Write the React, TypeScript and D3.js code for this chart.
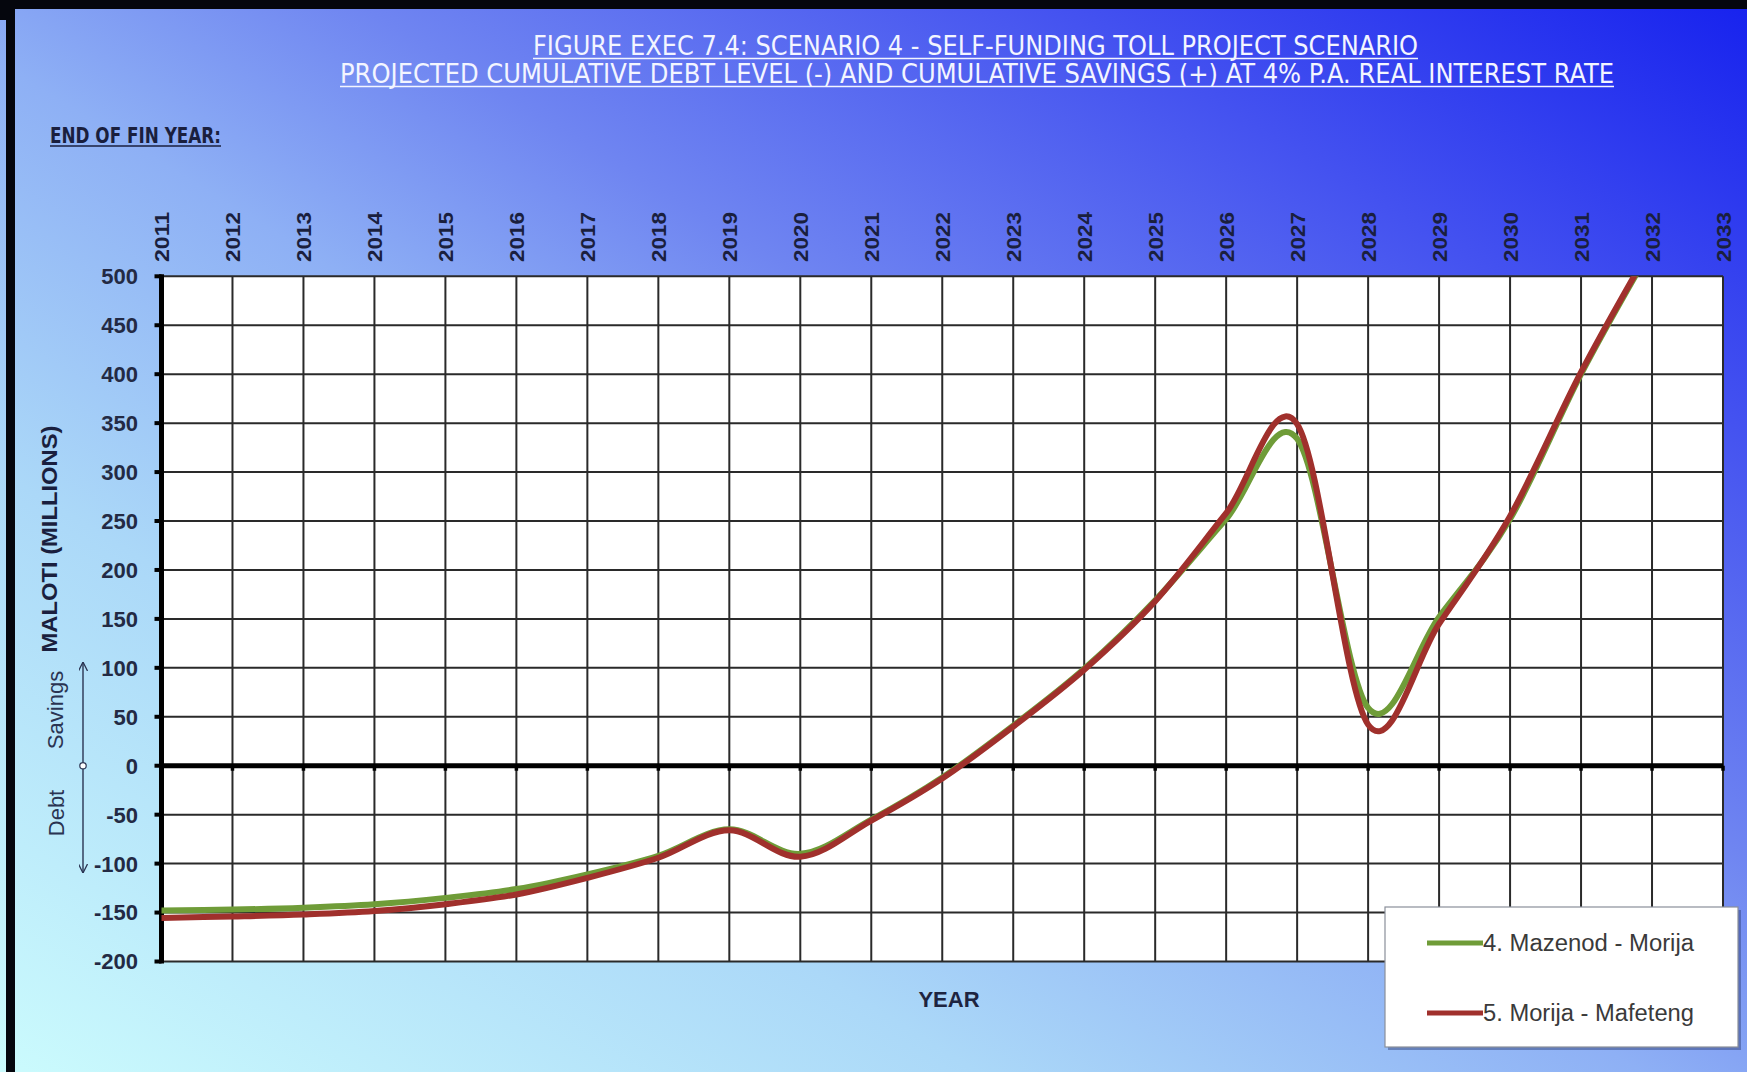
import React from "react";
import * as d3 from "d3";

// Financial years shown along the top axis
const years = [2011, 2012, 2013, 2014, 2015, 2016, 2017, 2018, 2019, 2020, 2021, 2022, 2023, 2024, 2025, 2026, 2027, 2028, 2029, 2030, 2031, 2032];
const yearLabels = [2011, 2012, 2013, 2014, 2015, 2016, 2017, 2018, 2019, 2020, 2021, 2022, 2023, 2024, 2025, 2026, 2027, 2028, 2029, 2030, 2031, 2032, 2033];

// Cumulative debt (-) / savings (+), Maloti millions
const mazenodMorija = [-148, -147, -145, -141.5, -135, -126, -111, -92, -65, -90, -55, -12, 41, 99, 169, 252, 334, 59, 152, 252, 400, 530];
const morijaMafeteng = [-155.5, -154, -152, -148.5, -141.5, -131.5, -114.5, -94, -66, -93, -56, -13, 40, 98, 168, 258, 349, 42, 145, 255, 402, 532];

const yTicks = [-200, -150, -100, -50, 0, 50, 100, 150, 200, 250, 300, 350, 400, 450, 500];

const seriesNames = ["4. Mazenod - Morija", "5. Morija - Mafeteng"];
const seriesColors = ["#6f9c38", "#a0302c"];

const W = 1747;
const H = 1072;
const PL = 161.5, PR = 1723, PT = 276.3, PB = 961.5;

const ARIAL = "'Liberation Sans', Arial, sans-serif";
const NARROW = "'Liberation Sans Narrow', 'DejaVu Sans Condensed', 'Liberation Sans', sans-serif";
const NAVY = "#1a1f3e";

export default function App() {
  const x = d3.scaleLinear().domain([2011, 2033]).range([PL, PR]);
  const y = d3.scaleLinear().domain([-200, 500]).range([PB, PT]);

  const line = d3
    .line<number>()
    .x((_, i) => x(years[i]))
    .y((d) => y(d))
    .curve(d3.curveCardinal.tension(0));

  const series = [mazenodMorija, morijaMafeteng];

  return (
    <svg
      width={W}
      height={H}
      viewBox={`0 0 ${W} ${H}`}
      style={{ position: "absolute", left: 0, top: 0, display: "block" }}
    >
      <defs>
        <linearGradient id="bg" x1="0" y1="1" x2="1" y2="0">
          <stop offset="0" stopColor="#cbfbfd" />
          <stop offset="0.28" stopColor="#abd8f8" />
          <stop offset="0.47" stopColor="#8eb0f5" />
          <stop offset="0.6" stopColor="#6f85f1" />
          <stop offset="0.8" stopColor="#4452f0" />
          <stop offset="1" stopColor="#1722ee" />
        </linearGradient>
        <clipPath id="plotClip">
          <rect x={PL} y={PT} width={PR - PL} height={PB - PT} />
        </clipPath>
        <marker id="arrowHead" viewBox="0 0 10 10" refX="10" refY="5" markerWidth="9" markerHeight="9" orient="auto-start-reverse" markerUnits="userSpaceOnUse">
          <path d="M0,0 L10,5 L0,10" fill="none" stroke="#2a3452" strokeWidth="1.4" />
        </marker>
      </defs>

      {/* background and frame */}
      <rect x={0} y={0} width={W} height={H} fill="url(#bg)" />
      <rect x={0} y={0} width={W} height={9} fill="#05060d" />
      <rect x={6} y={0} width={9} height={H} fill="#05060d" />
      <rect x={0} y={0} width={9} height={20} fill="#05060d" />

      {/* titles */}
      <g fill="#f3f5ff" fontFamily={NARROW} fontSize={27}>
        <text x={533} y={55} textLength={885} lengthAdjust="spacingAndGlyphs">
          FIGURE  EXEC  7.4:  SCENARIO  4 - SELF-FUNDING  TOLL  PROJECT  SCENARIO
        </text>
        <text x={340} y={83} textLength={1274} lengthAdjust="spacingAndGlyphs">
          PROJECTED  CUMULATIVE  DEBT  LEVEL  (-)  AND  CUMULATIVE  SAVINGS  (+)  AT  4%  P.A.  REAL  INTEREST  RATE
        </text>
      </g>
      <line x1={533} x2={1418} y1={58.5} y2={58.5} stroke="#f3f5ff" strokeWidth={1.6} />
      <line x1={340} x2={1614} y1={86.5} y2={86.5} stroke="#f3f5ff" strokeWidth={1.6} />

      <text x={50} y={143} fill={NAVY} fontFamily={NARROW} fontWeight="bold" fontSize={21} textLength={171} lengthAdjust="spacingAndGlyphs">
        END OF FIN YEAR:
      </text>
      <line x1={50} x2={221} y1={146} y2={146} stroke={NAVY} strokeWidth={1.6} />

      {/* plot area */}
      <rect x={PL} y={PT} width={PR - PL} height={PB - PT} fill="#ffffff" />
      <g stroke="#2a2a2a" strokeWidth={2}>
        {yearLabels.slice(1).map((yr) => (
          <line key={`v${yr}`} x1={x(yr)} x2={x(yr)} y1={PT} y2={PB} />
        ))}
        {yTicks.map((t) => (
          <line key={`h${t}`} x1={PL} x2={PR} y1={y(t)} y2={y(t)} />
        ))}
      </g>

      {/* zero axis with year ticks */}
      <line x1={PL} x2={PR} y1={y(0)} y2={y(0)} stroke="#000" strokeWidth={5} />
      <g stroke="#000" strokeWidth={3.5}>
        {yearLabels.slice(1).map((yr) => (
          <line key={`xt${yr}`} x1={x(yr)} x2={x(yr)} y1={y(0)} y2={y(0) + 5} />
        ))}
      </g>

      {/* value axis */}
      <line x1={PL} x2={PL} y1={PT - 2} y2={PB + 2} stroke="#000" strokeWidth={5} />
      <g stroke="#000" strokeWidth={4}>
        {yTicks.map((t) => (
          <line key={`yt${t}`} x1={PL - 7} x2={PL} y1={y(t)} y2={y(t)} />
        ))}
      </g>

      {/* series */}
      <g clipPath="url(#plotClip)" fill="none" strokeLinejoin="round" strokeLinecap="round">
        {series.map((s, i) => (
          <path key={seriesNames[i]} d={line(s) || ""} stroke={seriesColors[i]} strokeWidth={6} />
        ))}
      </g>

      {/* year labels */}
      <g fill={NAVY} fontFamily={ARIAL} fontWeight="bold" fontSize={21}>
        {yearLabels.map((yr) => (
          <text key={`yl${yr}`} transform={`translate(${x(yr)},262) rotate(-90)`} dy="0.36em" textAnchor="start" textLength={50} lengthAdjust="spacingAndGlyphs">
            {yr}
          </text>
        ))}
      </g>

      {/* value labels */}
      <g fill="#232a44" fontFamily={ARIAL} fontWeight="bold" fontSize={22} textAnchor="end">
        {yTicks.map((t) => (
          <text key={`vl${t}`} x={138} y={y(t)} dy="0.36em">
            {t}
          </text>
        ))}
      </g>

      {/* axis titles */}
      <text transform="translate(57,539) rotate(-90)" textAnchor="middle" fill={NAVY} fontFamily={ARIAL} fontWeight="bold" fontSize={22} textLength={227} lengthAdjust="spacingAndGlyphs">
        MALOTI (MILLIONS)
      </text>
      <g fill="#2a3452" fontFamily={ARIAL} fontSize={22} textAnchor="middle">
        <text transform="translate(63,710) rotate(-90)">Savings</text>
        <text transform="translate(64,813) rotate(-90)">Debt</text>
      </g>
      <line x1={83} x2={83} y1={y(0) - 3} y2={662} stroke="#2a3452" strokeWidth={1.4} markerEnd="url(#arrowHead)" />
      <line x1={83} x2={83} y1={y(0) + 3} y2={873} stroke="#2a3452" strokeWidth={1.4} markerEnd="url(#arrowHead)" />
      <circle cx={83} cy={y(0)} r={3.2} fill="#ffffff" stroke="#2a3452" strokeWidth={1.2} />

      <text x={949} y={1007} textAnchor="middle" fill="#1e2440" fontFamily={ARIAL} fontWeight="bold" fontSize={22}>
        YEAR
      </text>

      {/* legend */}
      <rect x={1388} y={910} width={353} height={140} fill="#2a3a70" opacity={0.45} />
      <rect x={1385} y={907} width={353} height={140} fill="#ffffff" stroke="#8a8f9a" strokeWidth={1.2} />
      {seriesNames.map((n, i) => (
        <g key={`lg${i}`}>
          <line x1={1427} x2={1483} y1={943 + i * 70} y2={943 + i * 70} stroke={seriesColors[i]} strokeWidth={5} />
          <text x={1483} y={943 + i * 70} dy="0.36em" fill="#3a3a3a" fontFamily={ARIAL} fontSize={23} textLength={211} lengthAdjust="spacingAndGlyphs">
            {n}
          </text>
        </g>
      ))}
    </svg>
  );
}
